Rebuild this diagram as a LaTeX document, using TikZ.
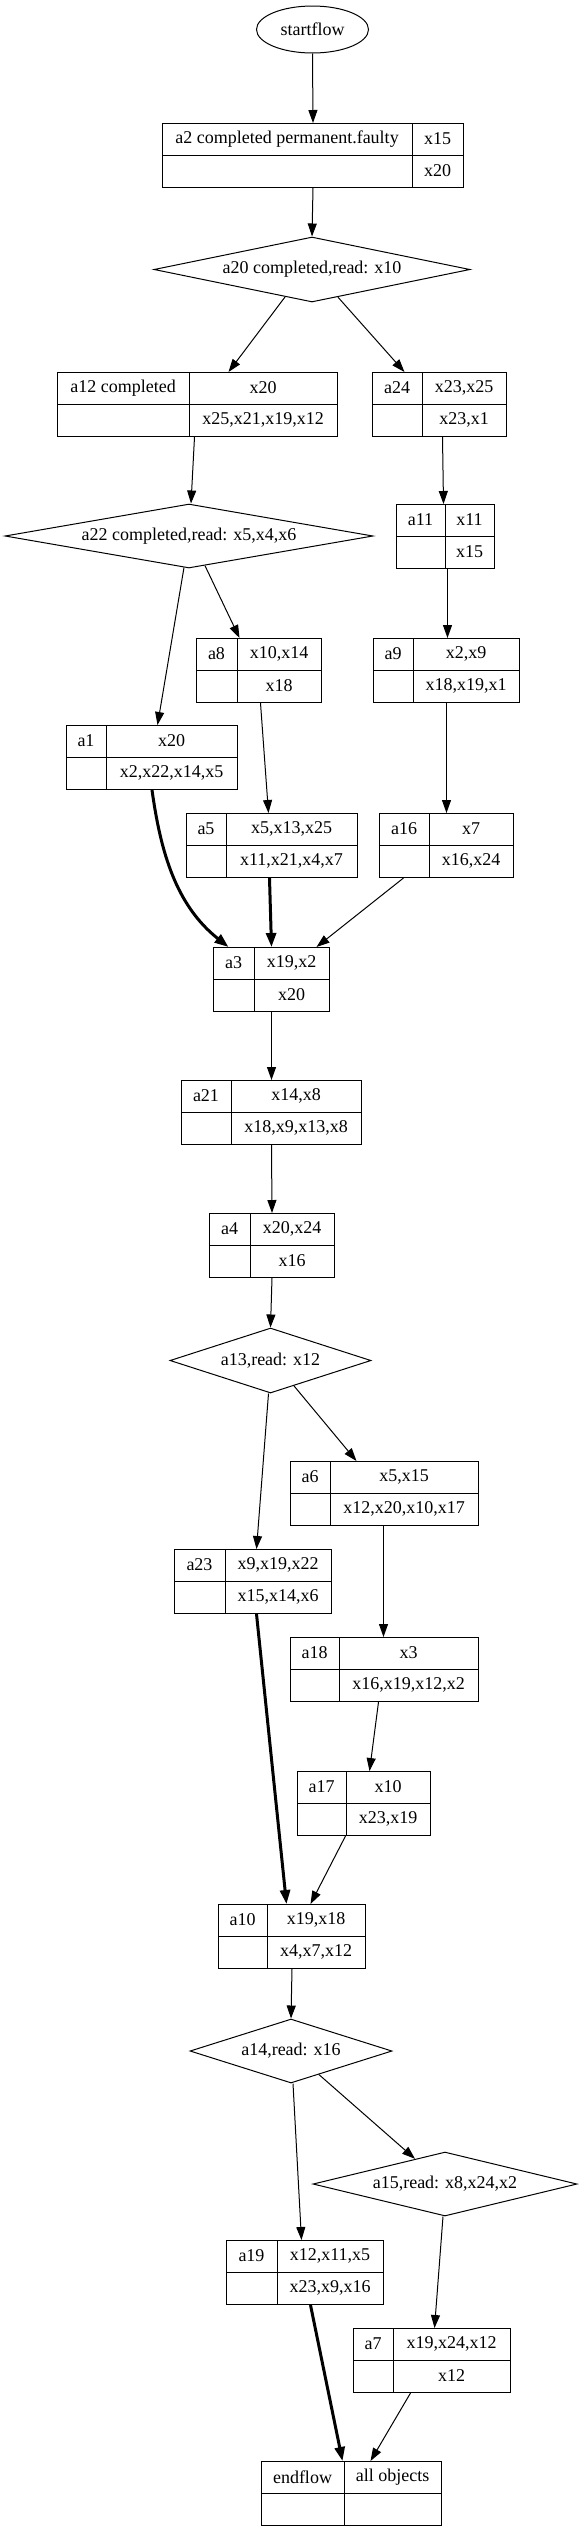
\documentclass[tikz,border=0pt]{standalone}
\usepackage{fontspec}
\setmainfont{Liberation Serif}
\usetikzlibrary{shapes.geometric,arrows.meta,calc}
\tikzset{
  recbox/.style={draw, rectangle, inner sep=0pt, line width=1pt},
  divline/.style={line width=1pt},
  lbl/.style={font=\fontsize{18}{20}\selectfont, inner sep=0pt},
  diabox/.style={draw, diamond, inner sep=0pt, line width=1pt},
  ellbox/.style={draw, ellipse, inner sep=0pt, line width=1pt, font=\fontsize{18}{20}\selectfont},
  conn/.style={line width=1pt, -{Triangle[length=13pt,width=9pt]}},
  thickconn/.style={line width=3pt, -{Triangle[length=14pt,width=10pt]}},
}
% #1 name, #2 x left, #3 x divider, #4 x right, #5 y top, #6 top-left, #7 top-right, #8 bottom-right
\newcommand\recnode[8]{%
  \node[recbox, minimum width={(#4-#2)*1pt}, minimum height=64pt, anchor=north west] (#1) at (#2,-#5) {};
  \draw[divline] (#1.west) -- (#1.east);
  \draw[divline] ([xshift={(#3-#2)*1pt}]#1.north west) -- ([xshift={(#3-#2)*1pt}]#1.south west);
  \node[lbl] (#1tl) at ({(#2+#3)/2},{-#5-16}) {#6};
  \node[lbl] (#1tr) at ({(#3+#4)/2},{-#5-16}) {#7};
  \node[lbl] (#1br) at ({(#3+#4)/2},{-#5-48}) {#8};
}
\begin{document}
\begin{tikzpicture}[x=1pt,y=1pt]
\fill[white] (0,0) rectangle (582,-2530);
\useasboundingbox (0,0) rectangle (582,-2530);

\node[ellbox, minimum width=112pt, minimum height=47pt] (startflow) at (312.5,-29.5) {startflow};

\recnode{a2}{162}{412}{463}{123}{a2 completed permanent.faulty}{x15}{x20}

\node[diabox, minimum width=316pt, minimum height=65pt] (a20) at (312,-269.5) {};
\node[lbl] (a20t) at (a20.center) {a20 completed,read: x10};

\recnode{a12}{57}{189}{337}{372}{a12 completed}{x20}{x25,x21,x19,x12}
\recnode{a24}{372}{422}{506}{372}{a24}{x23,x25}{x23,x1}

\node[diabox, minimum width=368pt, minimum height=64pt] (a22) at (189,-536) {};
\node[lbl] (a22t) at (a22.center) {a22 completed,read: x5,x4,x6};

\recnode{a11}{396}{445}{494}{504}{a11}{x11}{x15}
\recnode{a8}{196}{237}{321}{638}{a8}{x10,x14}{x18}
\recnode{a9}{373}{413}{519}{638}{a9}{x2,x9}{x18,x19,x1}
\recnode{a1}{66}{106}{237}{725}{a1}{x20}{x2,x22,x14,x5}
\recnode{a5}{186}{226}{357}{813}{a5}{x5,x13,x25}{x11,x21,x4,x7}
\recnode{a16}{379}{429}{513}{813}{a16}{x7}{x16,x24}
\recnode{a3}{213}{254}{329}{947}{a3}{x19,x2}{x20}
\recnode{a21}{181}{231}{361}{1080}{a21}{x14,x8}{x18,x9,x13,x8}
\recnode{a4}{209}{250}{334}{1213}{a4}{x20,x24}{x16}

\node[diabox, minimum width=201pt, minimum height=65pt] (a13) at (270.5,-1360.5) {};
\node[lbl] (a13t) at (a13.center) {a13,read: x12};

\recnode{a6}{290}{330}{478}{1461}{a6}{x5,x15}{x12,x20,x10,x17}
\recnode{a23}{174}{225}{331}{1549}{a23}{x9,x19,x22}{x15,x14,x6}
\recnode{a18}{290}{339}{478}{1637}{a18}{x3}{x16,x19,x12,x2}
\recnode{a17}{297}{346}{430}{1771}{a17}{x10}{x23,x19}
\recnode{a10}{218}{267}{365}{1904}{a10}{x19,x18}{x4,x7,x12}

\node[diabox, minimum width=202pt, minimum height=64pt] (a14) at (291,-2051) {};
\node[lbl] (a14t) at (a14.center) {a14,read: x16};

\node[diabox, minimum width=264pt, minimum height=64pt] (a15) at (445,-2184) {};
\node[lbl] (a15t) at (a15.center) {a15,read: x8,x24,x2};

\recnode{a19}{226}{277}{383}{2240}{a19}{x12,x11,x5}{x23,x9,x16}
\recnode{a7}{353}{393}{510}{2328}{a7}{x19,x24,x12}{x12}
\recnode{endflow}{261}{344}{441}{2461}{endflow}{all objects}{}

% connectors
\draw[conn] (startflow.south) -- (a2.north);
\draw[conn] (a2.south) -- (a20.north);
\draw[conn] ([xshift=-27pt,yshift=5.5pt]a20.south) -- ([xshift=31pt]a12.north);
\draw[conn] ([xshift=26pt,yshift=5.3pt]a20.south) -- ([xshift=-35pt]a24.north);
\draw[conn] ([xshift=-3pt]a12.south) -- ([xshift=2pt]a22.north);
\draw[conn] ([xshift=3pt]a24.south) -- ([xshift=-2pt]a11.north);
\draw[conn] ([xshift=-5pt,yshift=1pt]a22.south) -- ([xshift=5.5pt]a1.north);
\draw[conn] ([xshift=16pt,yshift=2.8pt]a22.south) -- ([xshift=-19.5pt]a8.north);
\draw[conn] ([xshift=2pt]a11.south) -- ([xshift=1pt]a9.north);
\draw[conn] ([xshift=1.5pt]a8.south) -- ([xshift=-3.5pt]a5.north);
\draw[conn] (a9.south) -- (a16.north);
\draw[thickconn] (a1.south) .. controls +(8.5,-61) and +(-53,42) .. ([xshift=-43pt]a3.north);
\draw[thickconn] ([xshift=-2.5pt]a5.south) -- (a3.north);
\draw[conn] ([xshift=-43pt]a16.south) -- ([xshift=45pt]a3.north);
\draw[conn] (a3.south) -- (a21.north);
\draw[conn] (a21.south) -- (a4.north);
\draw[conn] (a4.south) -- (a13.north);
\draw[conn] ([xshift=-2pt]a13.south) -- ([xshift=3.5pt]a23.north);
\draw[conn] ([xshift=23.5pt,yshift=7.6pt]a13.south) -- ([xshift=-28pt]a6.north);
\draw[conn] ([xshift=-1pt]a6.south) -- ([xshift=-1pt]a18.north);
\draw[thickconn] ([xshift=3.5pt]a23.south) -- ([xshift=-5.5pt]a10.north);
\draw[conn] ([xshift=-6pt]a18.south) -- ([xshift=5.5pt]a17.north);
\draw[conn] ([xshift=-18.5pt]a17.south) -- ([xshift=18.5pt]a10.north);
\draw[conn] (a10.south) -- (a14.north);
\draw[conn] ([xshift=2pt]a14.south) -- ([xshift=-3.5pt]a19.north);
\draw[conn] ([xshift=28pt,yshift=8.9pt]a14.south) -- ([xshift=-30pt,yshift=-7.3pt]a15.north);
\draw[conn] ([xshift=-2pt]a15.south) -- ([xshift=2.5pt]a7.north);
\draw[thickconn] ([xshift=5.5pt]a19.south) -- ([xshift=-9pt]endflow.north);
\draw[conn] ([xshift=-21.5pt]a7.south) -- ([xshift=19pt]endflow.north);
\end{tikzpicture}
\end{document}
